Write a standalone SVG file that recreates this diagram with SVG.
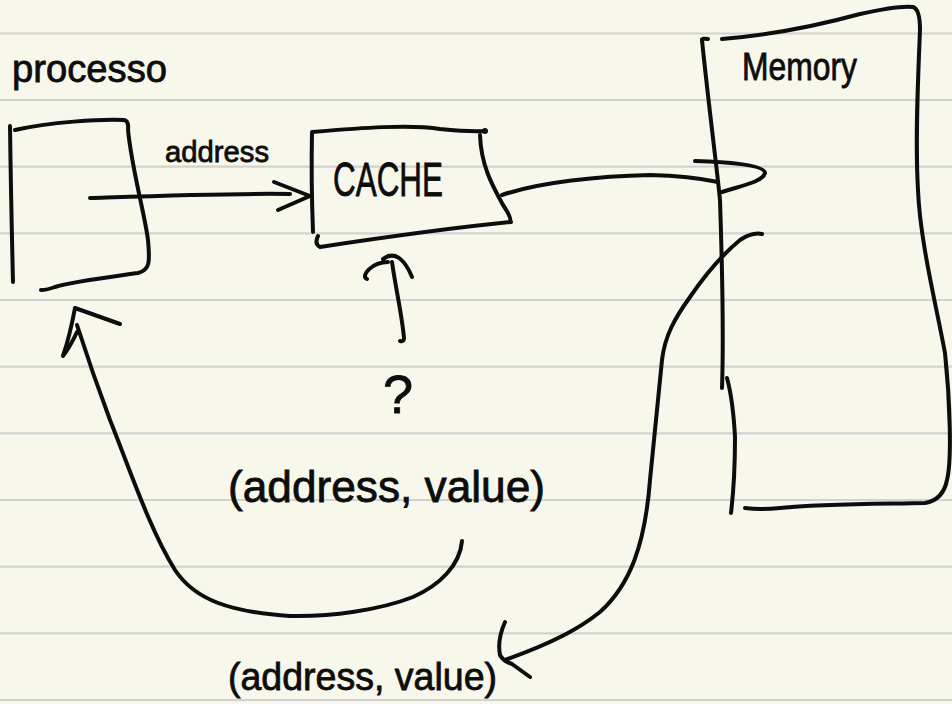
<svg xmlns="http://www.w3.org/2000/svg" width="952" height="704" viewBox="0 0 952 704">
<style>
.rule{stroke:#d2d2d0;stroke-width:2.2;fill:none}
.ink{stroke:#0d0d0d;stroke-width:4;fill:none;stroke-linecap:round;stroke-linejoin:round}
.t{font-family:"Liberation Sans","Noto Sans",sans-serif;fill:#0d0d0d;stroke:#0d0d0d;stroke-width:0.8}
</style>
<rect x="0" y="0" width="952" height="704" fill="#f8f7eb"/>
<g id="ruling">
<line class="rule" x1="0" y1="33.5" x2="952" y2="33.5"/>
<line class="rule" x1="0" y1="100" x2="952" y2="100"/>
<line class="rule" x1="0" y1="166.7" x2="952" y2="166.7"/>
<line class="rule" x1="0" y1="233.3" x2="952" y2="233.3"/>
<line class="rule" x1="0" y1="300" x2="952" y2="300"/>
<line class="rule" x1="0" y1="366.7" x2="952" y2="366.7"/>
<line class="rule" x1="0" y1="433.3" x2="952" y2="433.3"/>
<line class="rule" x1="0" y1="500" x2="952" y2="500"/>
<line class="rule" x1="0" y1="566.7" x2="952" y2="566.7"/>
<line class="rule" x1="0" y1="633.3" x2="952" y2="633.3"/>
<line class="rule" x1="0" y1="700" x2="952" y2="700"/>
</g>
<g id="processor">
<path class="ink" d="M10,126 Q11,200 13,282"/>
<path class="ink" d="M15,130 C50,122 100,119 124,120 Q129,121 128,130 C132,170 145,215 148,240 C150,262 150,270 138,273 C110,277 70,282 55,287 Q47,290 41,290"/>
<text class="t" x="12" y="82" font-size="38" textLength="155" lengthAdjust="spacingAndGlyphs">processo</text>
</g>
<g id="cache">
<path class="ink" d="M313,232 Q311,180 312,132 C360,128 410,124 440,129 Q470,132 485,131"/>
<circle cx="485" cy="131" r="3" fill="#0d0d0d"/>
<path class="ink" d="M480,135 C481,165 492,185 503,205 Q512,218 510,222"/>
<path class="ink" d="M318,236 Q314,244 320,247 C380,238 450,228 511,222"/>
<text class="t" x="333" y="196" font-size="48" textLength="110" lengthAdjust="spacingAndGlyphs">CACHE</text>
</g>
<g id="memory">
<path class="ink" d="M702,40 Q702,38 708,39"/>
<path class="ink" d="M702,40 C708,100 716,160 720,200 C722,260 724,330 722,388"/>
<path class="ink" d="M727,378 Q733,400 735,437 Q735,480 731,513"/>
<path class="ink" d="M722,39 C770,35 820,25 860,14 Q900,5 913,7 Q920,9 920,30 C918,80 915,140 918,190 C920,240 935,300 945,353 C950,400 952,460 947,480 Q943,500 925,503 C880,504 820,504 780,508 Q760,510 745,508"/>
<text class="t" x="742" y="80" font-size="38" textLength="115" lengthAdjust="spacingAndGlyphs">Memory</text>
</g>
<g id="labels">
<text class="t" x="165" y="162" font-size="30" textLength="104" lengthAdjust="spacingAndGlyphs">address</text>
<text class="t" x="383" y="413" font-size="54">?</text>
<text class="t" x="228" y="502" font-size="44" textLength="317" lengthAdjust="spacingAndGlyphs">(address, value)</text>
<text class="t" x="228" y="690" font-size="38" textLength="269" lengthAdjust="spacingAndGlyphs">(address, value)</text>
</g>
<g id="connectors">
<path class="ink" d="M90,198 C150,196 230,193 290,194"/>
<path class="ink" d="M274,182 L310,196 L278,210"/>
<path class="ink" d="M502,195 C540,182 600,176 650,175 Q690,176 718,182"/>
<path class="ink" d="M695,161 C730,162 765,165 765,173 C763,182 740,186 722,192"/>
<path class="ink" d="M392,262 C396,290 402,315 404,338 Q404,342 400,341"/>
<path class="ink" d="M367,279 C360,276 372,262 388,262 M383,259 C395,250 405,260 412,277"/>
<path class="ink" d="M462,541 C460,565 440,585 413,597 C380,610 330,617 290,616 C230,612 195,600 175,570 C150,530 130,470 110,420 C95,380 85,350 77,325"/>
<path class="ink" d="M120,324 L75,308 Q70,335 63,356 Q70,347 77,332"/>
<path class="ink" d="M762,234 Q752,232 740,240 C722,255 705,275 690,297 C675,318 665,335 662,360 C658,400 655,430 650,480 C645,545 630,585 600,612 C580,628 555,642 505,660"/>
<path class="ink" d="M505,622 Q497,640 500,655 Q503,661 512,664 L530,677"/>
</g>
</svg>
